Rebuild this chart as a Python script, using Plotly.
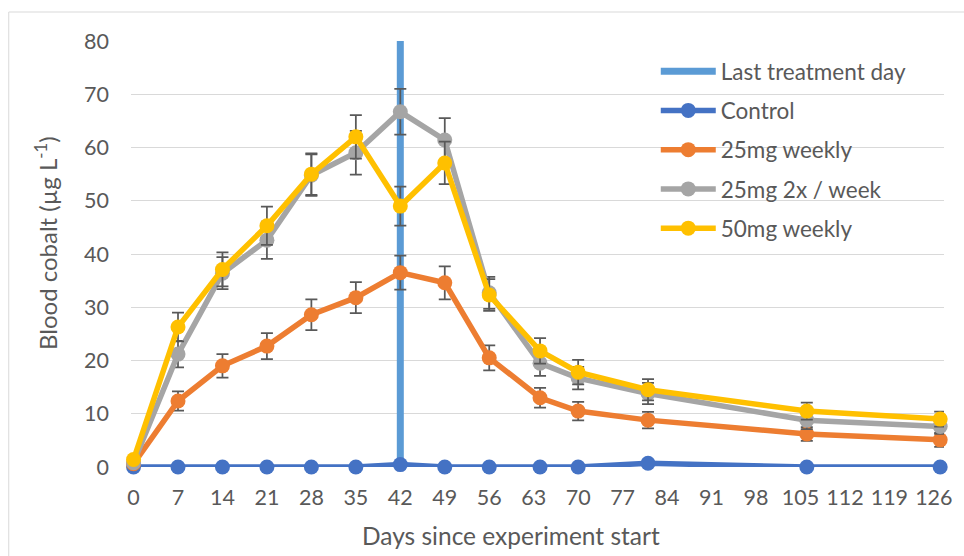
import plotly.graph_objects as go

days = [0, 7, 14, 21, 28, 35, 42, 49, 56, 64, 70, 81, 106, 127]
control = [0, 0, 0, 0, 0, 0, 0.45, 0, 0, 0, 0, 0.7, 0, 0]
w25 = [0.6, 12.4, 19.0, 22.7, 28.6, 31.8, 36.5, 34.6, 20.5, 13.0, 10.5, 8.8, 6.2, 5.1]
w25_err = [0.3, 1.8, 2.2, 2.45, 2.9, 2.9, 3.2, 3.1, 2.35, 1.85, 1.75, 1.55, 1.3, 1.3]
x2_25 = [0.8, 21.2, 36.4, 42.6, 54.8, 59.0, 66.7, 61.4, 32.7, 19.5, 16.7, 13.8, 8.8, 7.6]
x2_25_err = [0.3, 2.5, 3.0, 3.5, 3.9, 4.1, 4.3, 4.1, 3.0, 2.4, 2.1, 2.0, 1.7, 1.4]
w50 = [1.4, 26.3, 37.1, 45.3, 55.0, 62.0, 49.0, 57.1, 32.3, 21.8, 17.8, 14.5, 10.5, 9.0]
w50_err = [0.3, 2.7, 3.2, 3.6, 3.9, 4.1, 3.65, 4.0, 3.0, 2.4, 2.3, 2.0, 1.6, 1.4]

last_day_x = [42, 42]
last_day_y = [0, 80]

x_ticks = list(range(0, 127, 7))
y_ticks = list(range(0, 81, 10))

FONT = "Lato"
TXT = "#595959"
ERR = "#595959"

fig = go.Figure()
fig.add_trace(go.Scatter(x=last_day_x, y=last_day_y, mode="lines", name="Last treatment day",
                         line=dict(color="#5B9BD5", width=7), legendgroup="a"))

def series(name, y, err, color, grp):
    kw = {}
    if err is not None:
        kw["error_y"] = dict(type="data", array=err, visible=True, color=ERR, thickness=1.75, width=6)
    fig.add_trace(go.Scatter(x=days, y=y, mode="lines+markers", name=name, legendgroup=grp,
                             line=dict(color=color, width=5.5), cliponaxis=False,
                             marker=dict(color=color, size=15), **kw))

series("Control", control, None, "#4472C4", "b")
series("25mg weekly", w25, w25_err, "#ED7D31", "c")
series("25mg 2x / week", x2_25, x2_25_err, "#A5A5A5", "d")
series("50mg weekly", w50, w50_err, "#FFC000", "e")

fig.update_layout(
    width=964, height=556,
    margin=dict(l=131, r=15, t=41, b=89),
    paper_bgcolor="white", plot_bgcolor="white",
    font=dict(family=FONT, color=TXT, size=21),
    showlegend=True,
    legend=dict(x=(659 - 131) / 818, y=(467 - 50) / 426, xanchor="left", yanchor="top",
                font=dict(size=22.5, color=TXT, family=FONT), traceorder="grouped",
                tracegroupgap=7, itemwidth=55, bgcolor="rgba(0,0,0,0)"),
    xaxis=dict(range=[-0.4, 127.6], tickmode="array", tickvals=x_ticks,
               showgrid=False, zeroline=False, showline=False,
               tickfont=dict(size=21.5, color=TXT, family=FONT), ticks="", ticklabelstandoff=15),
    yaxis=dict(range=[0, 80], tickmode="array", tickvals=y_ticks,
               showgrid=True, gridcolor="#D9D9D9", gridwidth=1, zeroline=False, showline=False,
               tickfont=dict(size=21.5, color=TXT, family=FONT), ticks="", ticklabelstandoff=21),
    annotations=[
        dict(text="Days since experiment start", xref="paper", yref="paper",
             x=(513 - 131) / 818, y=(467 - 535) / 426, xanchor="center", yanchor="middle",
             showarrow=False, font=dict(size=24.5, color=TXT, family=FONT)),
        dict(text="Blood cobalt (µg L<sup>-1</sup>)", xref="paper", yref="paper",
             x=(45 - 131) / 818, y=(467 - 243.5) / 426, xanchor="center", yanchor="middle",
             textangle=-90, showarrow=False, font=dict(size=24, color=TXT, family=FONT)),
    ],
    shapes=[dict(type="rect", xref="paper", yref="paper",
                 x0=(8 - 131) / 818, x1=(975 - 131) / 818,
                 y0=(467 - 570) / 426, y1=(467 - 12) / 426,
                 line=dict(color="#D9D9D9", width=1), fillcolor="rgba(0,0,0,0)", layer="below")],
)

fig.write_html("out.html", config={"displayModeBar": False},
               post_script="document.body.style.margin='0';document.body.style.overflow='hidden';")
